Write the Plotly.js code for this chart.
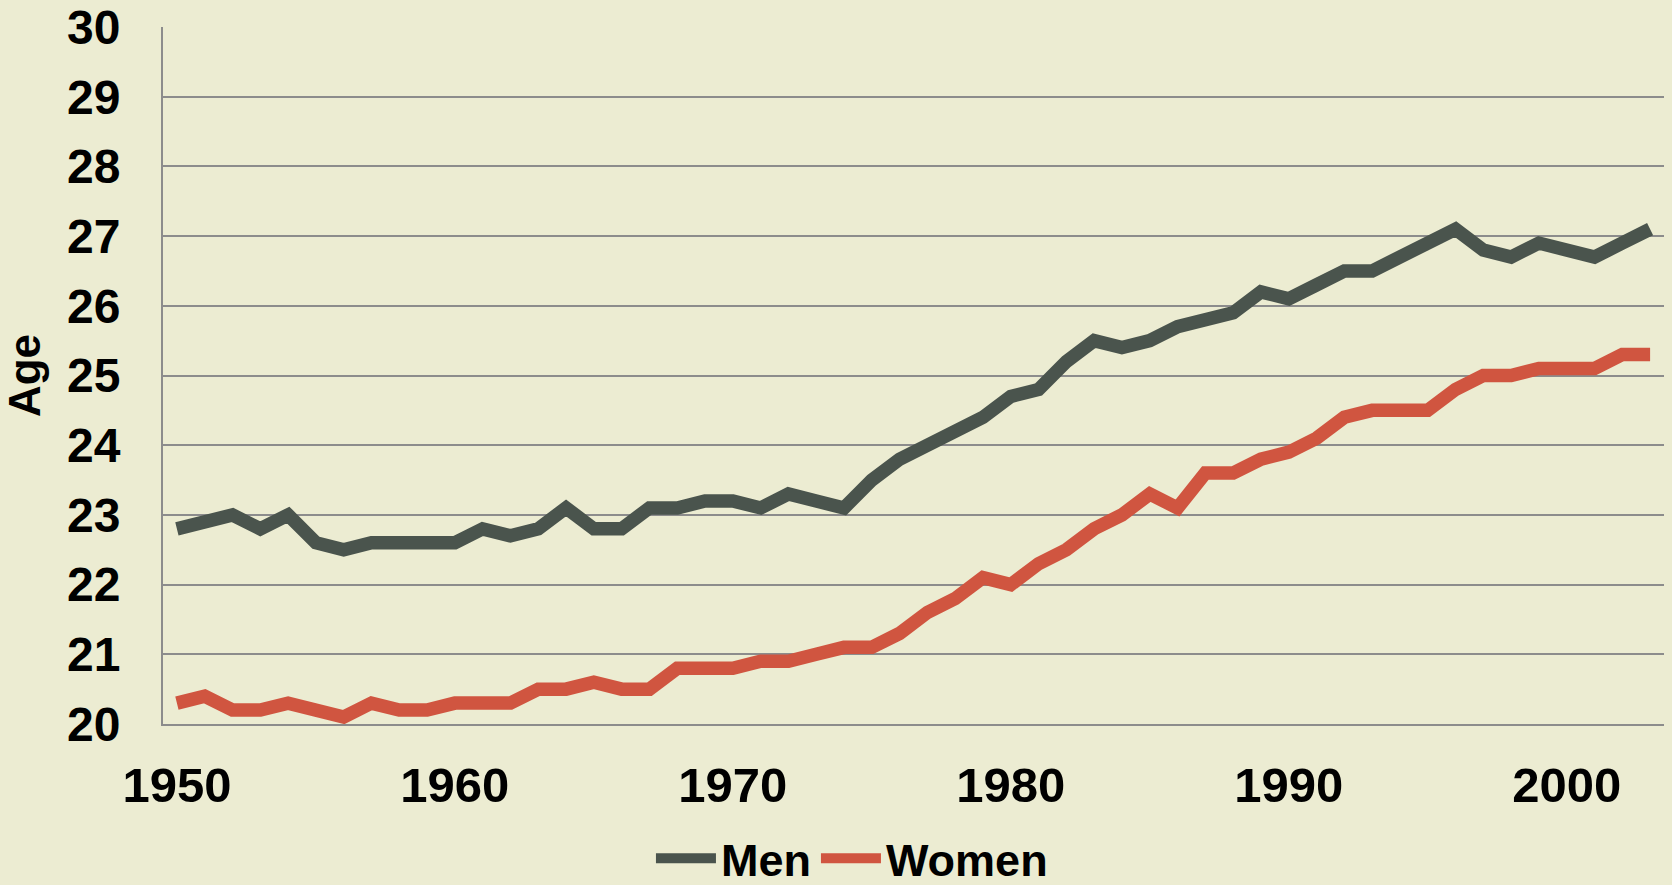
<!DOCTYPE html>
<html>
<head>
<meta charset="utf-8">
<script src="https://cdn.plot.ly/plotly-3.0.1.min.js"></script>
<style>html,body{margin:0;padding:0;background:#ECECD2;}#chart{width:1672px;height:885px;}</style>
</head>
<body>
<div id="chart"></div>
<script>
const years = [];
for (let y = 1950; y <= 2003; y++) years.push(y);

const men = [22.8, 22.9, 23.0, 22.8, 23.0, 22.6, 22.5, 22.6, 22.6, 22.6,
             22.6, 22.8, 22.7, 22.8, 23.1, 22.8, 22.8, 23.1, 23.1, 23.2,
             23.2, 23.1, 23.3, 23.2, 23.1, 23.5, 23.8, 24.0, 24.2, 24.4,
             24.7, 24.8, 25.2, 25.5, 25.4, 25.5, 25.7, 25.8, 25.9, 26.2,
             26.1, 26.3, 26.5, 26.5, 26.7, 26.9, 27.1, 26.8, 26.7, 26.9,
             26.8, 26.7, 26.9, 27.1];
const women = [20.3, 20.4, 20.2, 20.2, 20.3, 20.2, 20.1, 20.3, 20.2, 20.2,
               20.3, 20.3, 20.3, 20.5, 20.5, 20.6, 20.5, 20.5, 20.8, 20.8,
               20.8, 20.9, 20.9, 21.0, 21.1, 21.1, 21.3, 21.6, 21.8, 22.1,
               22.0, 22.3, 22.5, 22.8, 23.0, 23.3, 23.1, 23.6, 23.6, 23.8,
               23.9, 24.1, 24.4, 24.5, 24.5, 24.5, 24.8, 25.0, 25.0, 25.1,
               25.1, 25.1, 25.3, 25.3];
const seriesNames = ['Men', 'Women'];
const xTicks = [1950, 1960, 1970, 1980, 1990, 2000];
const yTicks = [20, 21, 22, 23, 24, 25, 26, 27, 28, 29, 30];

const FONT = 'Liberation Sans, Arial, sans-serif';

const traces = [
  {x: years, y: men, name: seriesNames[0], mode: 'lines', type: 'scatter',
   line: {color: '#4A544D', width: 13.5, shape: 'linear'}},
  {x: years, y: women, name: seriesNames[1], mode: 'lines', type: 'scatter',
   line: {color: '#D05540', width: 13.5, shape: 'linear'}}
];

const layout = {
  width: 1672, height: 885,
  paper_bgcolor: '#ECECD2',
  plot_bgcolor: '#ECECD2',
  margin: {l: 163, r: 8, t: 27, b: 161, autoexpand: false},
  font: {family: FONT, color: '#000000', size: 44, weight: 700},
  showlegend: true,
  legend: {orientation: 'h', x: 0.459, xanchor: 'center', y: -0.193, yanchor: 'middle',
           font: {family: FONT, size: 45, color: '#000', weight: 700},
           bgcolor: 'rgba(0,0,0,0)', itemwidth: 60, tracegroupgap: 0},
  xaxis: {
    range: [1949.5, 2003.5], automargin: false,
    tickmode: 'array', tickvals: xTicks, ticktext: xTicks.map(String),
    showgrid: false, zeroline: false,
    showline: true, linecolor: '#8C8C8C', linewidth: 2,
    ticks: '', ticklabelstandoff: 17,
    tickfont: {family: FONT, size: 49, color: '#000', weight: 700}
  },
  yaxis: {
    range: [20, 30], automargin: false,
    tickmode: 'array', tickvals: yTicks, ticktext: yTicks.map(String),
    showgrid: true, gridcolor: '#8C8C8C', gridwidth: 2,
    zeroline: false,
    showline: true, linecolor: '#8C8C8C', linewidth: 2,
    ticks: '', ticklabelstandoff: 31,
    tickfont: {family: FONT, size: 48, color: '#000', weight: 700},
    title: {text: 'Age', standoff: 18, font: {family: FONT, size: 44, color: '#000', weight: 700}}
  }
};

Plotly.newPlot('chart', traces, layout, {displayModeBar: false, staticPlot: true});
</script>
</body>
</html>
